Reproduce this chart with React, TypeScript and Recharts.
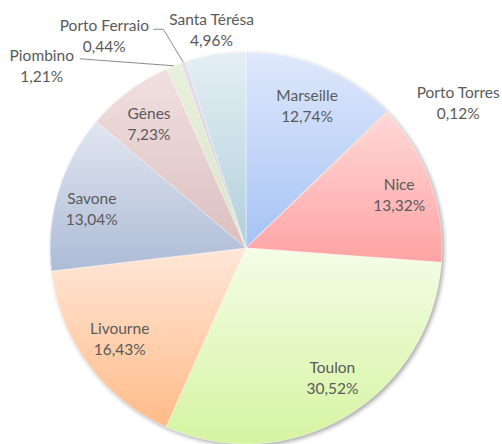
import { Cell, Pie, PieChart } from "recharts";

const ports = ["Marseille", "Porto Torres", "Nice", "Toulon", "Livourne", "Savone", "Gênes", "Piombino", "Porto Ferraio", "Santa Térésa"];
const shares = [12.74, 0.12, 13.32, 30.52, 16.43, 13.04, 7.23, 1.21, 0.44, 4.96];

const topColors = ["#dfe8fb", "#fbd3bd", "#ffd8d8", "#f4fde6", "#ffe7d8", "#e1e6f0", "#f1e0e0", "#e9f0dd", "#e4e1eb", "#e4eff4"];
const bottomColors = ["#a6c3f5", "#f4a57a", "#ffa3a3", "#d5f4a1", "#ffbb88", "#adbbd6", "#dcbfbf", "#d8e5c3", "#cfcadd", "#b2cfdb"];

const data = ports.map((name, i) => ({ name, value: shares[i] }));

// how each label sits: inside at a fraction of the radius, or outside offset from the rim
type Placement = {
  inside?: boolean;
  r?: number;
  dx: number;
  dy: number;
  leader?: [number, number][];
};

const placements: Placement[] = [
  { inside: true, r: 0.8, dx: 0, dy: 2 },
  { dx: 71, dy: -10 },
  { inside: true, r: 0.83, dx: 0, dy: 1 },
  { inside: true, r: 0.8, dx: 6, dy: -5 },
  { inside: true, r: 0.8, dx: 0, dy: -2 },
  { inside: true, r: 0.8, dx: -4, dy: 6 },
  { inside: true, r: 0.8, dx: -3, dy: 1 },
  { dx: -132, dy: 0, leader: [[0, 0], [-94, -7]] },
  { dx: -79, dy: -27, leader: [[0, 0], [-20, -33], [-30, -33]] },
  { dx: -4, dy: -25 },
];

const RAD = Math.PI / 180;
const textStyle = { fontFamily: "Lato, 'Noto Sans', sans-serif", fontSize: 15.5, fill: "#5a5a5a" };

function SliceLabel(props: any) {
  const { cx, cy, midAngle, outerRadius, index } = props;
  const place = placements[index];
  const cos = Math.cos(-midAngle * RAD);
  const sin = Math.sin(-midAngle * RAD);
  const rimX = cx + outerRadius * cos;
  const rimY = cy + outerRadius * sin;
  let x = rimX + place.dx;
  let y = rimY + place.dy;
  if (place.inside) {
    x = cx + outerRadius * (place.r ?? 0.8) * cos + place.dx;
    y = cy + outerRadius * (place.r ?? 0.8) * sin + place.dy;
  }
  const pct = `${Number(props.value).toFixed(2).replace(".", ",")}%`;
  return (
    <g>
      {place.leader && (
        <polyline
          points={place.leader.map(([lx, ly]) => `${rimX + lx},${rimY + ly}`).join(" ")}
          fill="none"
          stroke="#8c8c8c"
          strokeWidth={1}
        />
      )}
      <text x={x} y={y - 10.5} textAnchor="middle" dominantBaseline="central" style={textStyle}>
        {props.name}
      </text>
      <text x={x} y={y + 10.5} textAnchor="middle" dominantBaseline="central" style={textStyle}>
        {pct}
      </text>
    </g>
  );
}

export default function App() {
  return (
    <div style={{ position: "absolute", left: 0, top: 0, width: 502, height: 444, background: "#fff" }}>
      <PieChart width={502} height={444} margin={{ top: 0, right: 0, bottom: 0, left: 0 }}>
        <defs>
          {ports.map((p, i) => (
            <linearGradient key={p} id={`slice-${i}`} x1="0" y1="0" x2="0" y2="1">
              <stop offset="0%" stopColor={topColors[i]} />
              <stop offset="100%" stopColor={bottomColors[i]} />
            </linearGradient>
          ))}
          <filter id="pie-shadow" x="-10%" y="-10%" width="120%" height="120%">
            <feGaussianBlur stdDeviation="2" />
          </filter>
        </defs>
        {/* soft shadow under the pie */}
        <Pie
          data={data}
          dataKey="value"
          nameKey="name"
          cx={248}
          cy={250}
          outerRadius={196}
          startAngle={90}
          endAngle={-270}
          stroke="none"
          isAnimationActive={false}
          label={false}
          labelLine={false}
        >
          {data.map(d => (
            <Cell key={d.name} fill="rgba(0,0,0,0.35)" filter="url(#pie-shadow)" />
          ))}
        </Pie>
        <Pie
          data={data}
          dataKey="value"
          nameKey="name"
          cx={246}
          cy={248}
          outerRadius={196}
          startAngle={90}
          endAngle={-270}
          stroke="#ffffff"
          strokeOpacity={0.6}
          strokeWidth={0.75}
          isAnimationActive={false}
          label={SliceLabel}
          labelLine={false}
        >
          {data.map((d, i) => (
            <Cell key={d.name} fill={`url(#slice-${i})`} />
          ))}
        </Pie>
      </PieChart>
    </div>
  );
}
